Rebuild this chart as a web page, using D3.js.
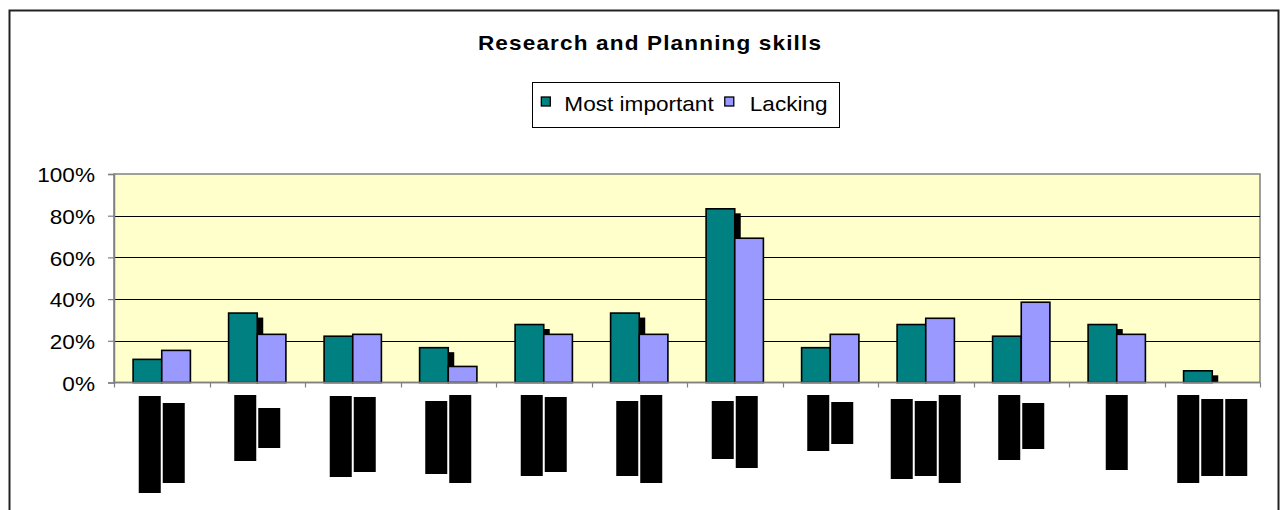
<!DOCTYPE html>
<html>
<head>
<meta charset="utf-8">
<script src="https://cdn.jsdelivr.net/npm/d3@7"></script>
<style>
  html, body { margin: 0; padding: 0; background: #fff; }
  svg { display: block; font-family: "Liberation Sans", Arial, sans-serif; }
</style>
</head>
<body>
<svg id="chart" width="1281" height="510"></svg>
<script>
// Skill areas (labels are redacted in this version of the report)
const categories = ["c1", "c2", "c3", "c4", "c5", "c6", "c7", "c8", "c9", "c10", "c11", "c12"];
const seriesNames = ["Most important", "Lacking"];
const mostImportant = [11.1, 33.3, 22.2, 16.7, 27.8, 33.3, 83.3, 16.7, 27.8, 22.2, 27.8, 5.6];
const lacking = [15.4, 23.1, 23.1, 7.7, 23.1, 23.1, 69.2, 23.1, 30.8, 38.5, 23.1, 0];
const yTicks = [0, 20, 40, 60, 80, 100];
// Redacted category label lines: [start offset, length] of each vertical text line
const redactedLines = [
  [[1, 97], [8, 80]],
  [[0, 66], [13, 40]],
  [[1, 81], [2, 75]],
  [[6, 73], [0, 88]],
  [[0, 81], [2, 75]],
  [[6, 75], [0, 88]],
  [[6, 58], [1, 72]],
  [[0, 56], [7, 42]],
  [[4, 80], [6, 75], [0, 88]],
  [[0, 65], [8, 46]],
  [[0, 75]],
  [[0, 88], [4, 77], [4, 77]]
];

const colors = ["#008080", "#9999FF"];
const SX = 1.13; // horizontal stretch of the text face

const svg = d3.select("#chart");

// outer chart frame
svg.append("rect")
  .attr("x", 9.5).attr("y", 10.5)
  .attr("width", 1269).attr("height", 530)
  .attr("fill", "#fff").attr("stroke", "#222").attr("stroke-width", 2);

const plot = { left: 114, right: 1260, top: 174, bottom: 382.5 };

const x = d3.scaleBand().domain(categories)
  .range([plot.left, plot.right]).paddingInner(0.4).paddingOuter(0.2);
const xs = d3.scaleBand().domain(seriesNames).range([0, x.bandwidth()]);
const y = d3.scaleLinear().domain([0, 100]).range([plot.bottom, plot.top]);

// plot area
svg.append("rect")
  .attr("x", plot.left).attr("y", plot.top)
  .attr("width", plot.right - plot.left).attr("height", plot.bottom - plot.top)
  .attr("fill", "#FFFFCC").attr("stroke", "#808080").attr("stroke-width", 1.5);

// gridlines
svg.append("g").selectAll("line")
  .data(yTicks.filter(d => d > 0 && d < 100))
  .join("line")
  .attr("x1", plot.left).attr("x2", plot.right)
  .attr("y1", d => Math.round(y(d)) + 0.5).attr("y2", d => Math.round(y(d)) + 0.5)
  .attr("stroke", "#000").attr("stroke-width", 1);

// bars
const rows = categories.map((c, i) => ({ cat: c, values: [mostImportant[i], lacking[i]] }));
const groups = svg.append("g").selectAll("g")
  .data(rows).join("g")
  .attr("transform", d => `translate(${x(d.cat)},0)`);

// drop shadow of the first series
groups.append("rect")
  .attr("x", xs(seriesNames[0]) + 6)
  .attr("y", d => y(d.values[0]) + 4.5)
  .attr("width", xs.bandwidth())
  .attr("height", d => Math.max(0, y(0) - y(d.values[0]) - 4.5))
  .attr("fill", "#000");

groups.selectAll("rect.bar")
  .data(d => d.values.map((v, k) => ({ v, k })))
  .join("rect")
  .attr("class", "bar")
  .attr("x", d => xs(seriesNames[d.k]))
  .attr("y", d => y(d.v))
  .attr("width", xs.bandwidth())
  .attr("height", d => y(0) - y(d.v))
  .attr("fill", d => colors[d.k])
  .attr("stroke", "#000").attr("stroke-width", 1.6)
  .attr("display", d => d.v > 0 ? null : "none");

// y axis
const yAxis = svg.append("g")
  .attr("transform", `translate(${plot.left},0)`)
  .call(d3.axisLeft(y).tickValues(yTicks).tickSize(6).tickPadding(0).tickFormat(d => d + "%"));
yAxis.select(".domain").attr("stroke", "#808080").attr("stroke-width", 1.5);
yAxis.selectAll(".tick line").attr("stroke", "#808080").attr("stroke-width", 1.2);
yAxis.selectAll(".tick text")
  .attr("font-size", 20).attr("fill", "#000")
  .attr("font-family", "Liberation Sans, Arial, sans-serif")
  .attr("x", -19 / SX).attr("dy", "0.38em")
  .attr("transform", `scale(${SX},1)`);

// x axis: baseline with tick marks on category boundaries
const xAxis = svg.append("g");
xAxis.append("line")
  .attr("x1", plot.left).attr("x2", plot.right)
  .attr("y1", plot.bottom).attr("y2", plot.bottom)
  .attr("stroke", "#808080").attr("stroke-width", 1.5);
const boundaries = categories.map(c => x(c) - x.step() * x.paddingOuter()).concat([plot.right]);
xAxis.selectAll("line.tick")
  .data(boundaries).join("line")
  .attr("class", "tick")
  .attr("x1", d => Math.round(d) + 0.5).attr("x2", d => Math.round(d) + 0.5)
  .attr("y1", plot.bottom).attr("y2", plot.bottom + 5)
  .attr("stroke", "#808080").attr("stroke-width", 1.2);

// redacted category labels (vertical text lines blacked out)
const lineW = 22, linePitch = 24, labelTop = 395;
const labelGroups = svg.append("g").selectAll("g")
  .data(categories.map((c, i) => ({ c, lines: redactedLines[i] })))
  .join("g")
  .attr("transform", d => `translate(${x(d.c) + x.bandwidth() / 2},${labelTop})`);
labelGroups.selectAll("rect")
  .data(d => d.lines.map((l, j) => ({ l, j, n: d.lines.length })))
  .join("rect")
  .attr("x", d => (d.j - d.n / 2) * linePitch + (linePitch - lineW) / 2)
  .attr("y", d => d.l[0])
  .attr("width", lineW)
  .attr("height", d => d.l[1])
  .attr("fill", "#000");

// title
svg.append("text")
  .attr("transform", `translate(650,50) scale(${SX},1)`)
  .attr("text-anchor", "middle")
  .attr("font-size", 20).attr("font-weight", "bold")
  .attr("letter-spacing", 1)
  .text("Research and Planning skills");

// legend
const legend = svg.append("g");
const legendBox = legend.append("rect")
  .attr("y", 82.5).attr("height", 45)
  .attr("fill", "#fff").attr("stroke", "#000").attr("stroke-width", 1);
let cursor = 9;
const items = [];
seriesNames.forEach((name, k) => {
  const sw = legend.append("rect")
    .attr("y", 97).attr("width", 9).attr("height", 9)
    .attr("fill", colors[k]).attr("stroke", "#000").attr("stroke-width", 1.3);
  const t = legend.append("text")
    .attr("font-size", 20)
    .text(name);
  items.push({ sw, t, len: t.node().getComputedTextLength() * SX });
});
const gaps = [14, 11, 16];
let pos = 9;
items.forEach((it, k) => {
  it.swX = pos; pos += 9 + gaps[0] + (k === 1 ? 2 : 0);
  it.tX = pos; pos += it.len + (k === 0 ? gaps[1] : 12);
});
const legendW = pos;
const legendX = 686 - legendW / 2;
legendBox.attr("x", Math.round(legendX) + 0.5).attr("width", Math.round(legendW));
items.forEach(it => {
  it.sw.attr("x", legendX + it.swX);
  it.t.attr("transform", `translate(${legendX + it.tX},111) scale(${SX},1)`);
});
</script>
</body>
</html>
